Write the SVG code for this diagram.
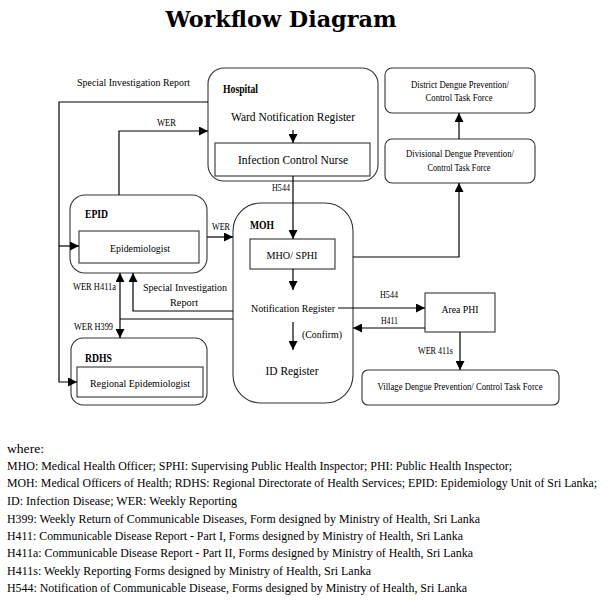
<svg xmlns="http://www.w3.org/2000/svg" width="609" height="612" viewBox="0 0 609 612">
<style>
.box{fill:#fff;stroke:#333;stroke-width:1.1}
.c{fill:none;stroke:#000;stroke-width:1.2}
text{font-family:"Liberation Serif","Times New Roman",serif;fill:#000}
.t{font-size:13px}
.s{font-size:11px}
.xs{font-size:10px}
.b{font-weight:bold;font-size:11.5px}
.lg{font-size:13px}
.m{text-anchor:middle}
</style>
<defs>
<marker id="ah" viewBox="0 0 10 10" refX="10" refY="5" markerWidth="9" markerHeight="9" markerUnits="userSpaceOnUse" orient="auto">
<path d="M0,0 L10,5 L0,10 z" fill="#000"/>
</marker>
</defs>
<rect width="609" height="612" fill="#fff"/>
<text x="281" y="27" class="m" style="font-family:'DejaVu Serif',serif;font-weight:bold;font-size:22px" textLength="231" lengthAdjust="spacingAndGlyphs">Workflow Diagram</text>

<g id="hospital">
<rect class="box" x="208" y="68" width="170" height="113" rx="16"/>
<text x="223" y="93" class="b" textLength="35" lengthAdjust="spacingAndGlyphs">Hospital</text>
<text x="293" y="121" class="t m" textLength="124" lengthAdjust="spacingAndGlyphs">Ward Notification Register</text>
</g>
<g id="icn">
<rect class="box" x="215" y="143" width="155" height="33"/>
<text x="293" y="164" class="t m" textLength="110" lengthAdjust="spacingAndGlyphs">Infection Control Nurse</text>
</g>
<g id="epid">
<rect class="box" x="70" y="195" width="137" height="78" rx="15"/>
<text x="85" y="218" class="b" textLength="23" lengthAdjust="spacingAndGlyphs">EPID</text>
</g>
<g id="epidemiologist">
<rect class="box" x="79" y="231" width="120" height="32"/>
<text x="140" y="252" class="s m" textLength="60" lengthAdjust="spacingAndGlyphs">Epidemiologist</text>
</g>
<g id="moh">
<rect class="box" x="233" y="203" width="120" height="200" rx="28"/>
<text x="250" y="229" class="b" textLength="24" lengthAdjust="spacingAndGlyphs">MOH</text>
<text x="293" y="312" class="s m" textLength="84" lengthAdjust="spacingAndGlyphs">Notification Register</text>
<text x="292" y="375" class="t m" textLength="53" lengthAdjust="spacingAndGlyphs">ID Register</text>
</g>
<g id="mhosphi">
<rect class="box" x="250" y="239" width="85" height="30"/>
<text x="292" y="259" class="s m" textLength="51" lengthAdjust="spacingAndGlyphs">MHO/ SPHI</text>
</g>
<g id="rdhs">
<rect class="box" x="71" y="338" width="136" height="67" rx="12"/>
<text x="85" y="362" class="b" textLength="27" lengthAdjust="spacingAndGlyphs">RDHS</text>
</g>
<g id="regional">
<rect class="box" x="77" y="367" width="126" height="30"/>
<text x="140" y="387" class="s m" textLength="100" lengthAdjust="spacingAndGlyphs">Regional Epidemiologist</text>
</g>
<g id="district">
<rect class="box" x="385" y="68" width="150" height="45" rx="7"/>
<text x="460" y="88" class="xs m" textLength="98" lengthAdjust="spacingAndGlyphs">District Dengue Prevention/</text>
<text x="459" y="101" class="xs m" textLength="67" lengthAdjust="spacingAndGlyphs">Control Task Force</text>
</g>
<g id="divisional">
<rect class="box" x="385" y="139" width="150" height="44" rx="7"/>
<text x="460" y="157" class="xs m" textLength="108" lengthAdjust="spacingAndGlyphs">Divisional Dengue Prevention/</text>
<text x="459" y="171" class="xs m" textLength="63" lengthAdjust="spacingAndGlyphs">Control Task Force</text>
</g>
<g id="areaphi">
<rect class="box" x="425" y="293" width="70" height="39"/>
<text x="460" y="313" class="s m" textLength="37" lengthAdjust="spacingAndGlyphs">Area PHI</text>
</g>
<g id="village">
<rect class="box" x="362" y="370" width="197" height="35" rx="6"/>
<text x="460" y="390" class="xs m" textLength="165" lengthAdjust="spacingAndGlyphs">Village Dengue Prevention/ Control Task Force</text>
</g>

<g id="connectors">
<polyline class="c" points="208,102 59,102 59,382 77,382" marker-end="url(#ah)"/>
<line class="c" x1="59" y1="246" x2="79" y2="246" marker-end="url(#ah)"/>
<polyline class="c" points="119,195 119,131 208,131" marker-end="url(#ah)"/>
<line class="c" x1="293" y1="130" x2="293" y2="143" marker-end="url(#ah)"/>
<line class="c" x1="293" y1="176" x2="293" y2="239" marker-end="url(#ah)"/>
<line class="c" x1="207" y1="237" x2="233" y2="237" marker-end="url(#ah)"/>
<line class="c" x1="293" y1="269" x2="293" y2="290" marker-end="url(#ah)"/>
<line class="c" x1="338" y1="308" x2="425" y2="308" marker-end="url(#ah)"/>
<line class="c" x1="425" y1="328" x2="353" y2="328" marker-end="url(#ah)"/>
<line class="c" x1="293" y1="322" x2="293" y2="350" marker-end="url(#ah)"/>
<line class="c" x1="460" y1="332" x2="460" y2="370" marker-end="url(#ah)"/>
<polyline class="c" points="353,257 459,257 459,183" marker-end="url(#ah)"/>
<line class="c" x1="459" y1="139" x2="459" y2="113" marker-end="url(#ah)"/>
<polyline class="c" points="233,311 133,311 133,273" marker-end="url(#ah)"/>
<line class="c" x1="233" y1="319" x2="120" y2="319"/>
<line class="c" x1="120" y1="319" x2="120" y2="273" marker-end="url(#ah)"/>
<line class="c" x1="120" y1="319" x2="120" y2="338" marker-end="url(#ah)"/>
<text x="77" y="86" class="s" textLength="113" lengthAdjust="spacingAndGlyphs">Special Investigation Report</text>
<text x="157" y="126" class="xs" textLength="19" lengthAdjust="spacingAndGlyphs">WER</text>
<text x="272" y="191" class="xs" textLength="18" lengthAdjust="spacingAndGlyphs">H544</text>
<text x="212" y="230" class="xs" textLength="18" lengthAdjust="spacingAndGlyphs">WER</text>
<text x="73" y="290" class="xs" textLength="43" lengthAdjust="spacingAndGlyphs">WER H411a</text>
<text x="185" y="291" class="s m" textLength="84" lengthAdjust="spacingAndGlyphs">Special Investigation</text>
<text x="184" y="306" class="s m" textLength="28" lengthAdjust="spacingAndGlyphs">Report</text>
<text x="74" y="330" class="xs" textLength="39" lengthAdjust="spacingAndGlyphs">WER H399</text>
<text x="380" y="298" class="xs" textLength="18" lengthAdjust="spacingAndGlyphs">H544</text>
<text x="381" y="324" class="xs" textLength="17" lengthAdjust="spacingAndGlyphs">H411</text>
<text x="302" y="338" class="s" textLength="40" lengthAdjust="spacingAndGlyphs">(Confirm)</text>
<text x="418" y="354" class="xs" textLength="35" lengthAdjust="spacingAndGlyphs">WER 411s</text>
</g>

<g id="legend">
<text x="7" y="453" class="lg" textLength="37" lengthAdjust="spacingAndGlyphs">where:</text>
<text x="7" y="470" class="lg" textLength="505" lengthAdjust="spacingAndGlyphs">MHO: Medical Health Officer; SPHI: Supervising Public Health Inspector; PHI: Public Health Inspector;</text>
<text x="7" y="487" class="lg" style="font-size:11.8px" textLength="590" lengthAdjust="spacingAndGlyphs">MOH: Medical Officers of Health; RDHS: Regional Directorate of Health Services; EPID: Epidemiology Unit of Sri Lanka;</text>
<text x="7" y="505" class="lg" textLength="230" lengthAdjust="spacingAndGlyphs">ID: Infection Disease; WER: Weekly Reporting</text>
<text x="7" y="523" class="lg" textLength="473" lengthAdjust="spacingAndGlyphs">H399: Weekly Return of Communicable Diseases, Form designed by Ministry of Health, Sri Lanka</text>
<text x="7" y="540" class="lg" textLength="456" lengthAdjust="spacingAndGlyphs">H411: Communicable Disease Report - Part I, Forms designed by Ministry of Health, Sri Lanka</text>
<text x="7" y="557" class="lg" textLength="466" lengthAdjust="spacingAndGlyphs">H411a: Communicable Disease Report - Part II, Forms designed by Ministry of Health, Sri Lanka</text>
<text x="7" y="575" class="lg" textLength="364" lengthAdjust="spacingAndGlyphs">H411s: Weekly Reporting Forms designed by Ministry of Health, Sri Lanka</text>
<text x="7" y="592" class="lg" textLength="460" lengthAdjust="spacingAndGlyphs">H544: Notification of Communicable Disease, Forms designed by Ministry of Health, Sri Lanka</text>
</g>
</svg>
